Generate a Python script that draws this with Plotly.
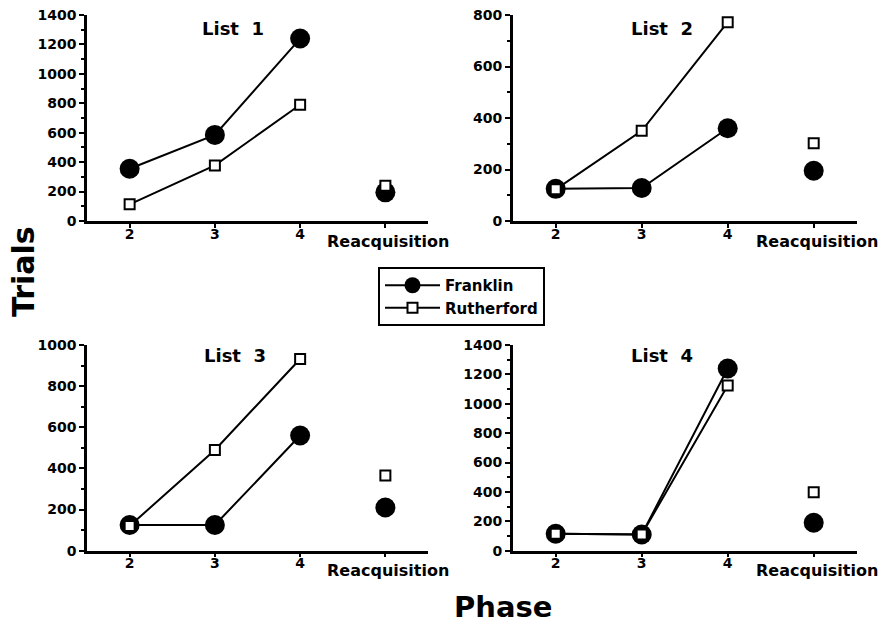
import plotly.graph_objects as go

# ---- data ----
phases = [2, 3, 4]
reacq_x = 5
tick_vals = [2, 3, 4, 5]
tick_labels = ["2", "3", "4", "Reacquisition"]
list_titles = ["List  1", "List  2", "List  3", "List  4"]
y_ranges = [1400, 800, 1000, 1400]
y_dticks = [200, 200, 200, 200]

franklin_phase = [
    [355, 585, 1240],
    [125, 128, 360],
    [125, 125, 560],
    [115, 110, 1240],
]
franklin_reacq = [195, 195, 210, 190]
rutherford_phase = [
    [113, 378, 790],
    [123, 350, 772],
    [120, 490, 932],
    [115, 110, 1125],
]
rutherford_reacq = [240, 302, 366, 398]

# ---- layout geometry (pixels) ----
W, H = 889, 628
col_x = [(87, 428), (512.7, 856.7)]
row_y = [(15, 221), (345, 550.7)]
title_px = [(233, 28.5), (662, 28.5), (235, 355), (662, 355)]

TICK_FONT = dict(family="DejaVu Sans", size=14, color="black", weight="bold")

fig = go.Figure()
for i in range(4):
    r, c = divmod(i, 2)
    suffix = "" if i == 0 else str(i + 1)
    xa, ya = "x" + suffix, "y" + suffix
    show = i == 0
    fig.add_trace(go.Scatter(
        x=phases, y=franklin_phase[i], xaxis=xa, yaxis=ya, mode="lines+markers",
        name="Franklin", legendgroup="F", showlegend=show,
        line=dict(color="black", width=2),
        marker=dict(symbol="circle", size=20, color="black"),
        cliponaxis=False,
    ))
    fig.add_trace(go.Scatter(
        x=[reacq_x], y=[franklin_reacq[i]], xaxis=xa, yaxis=ya, mode="markers",
        name="Franklin", legendgroup="F", showlegend=False,
        marker=dict(symbol="circle", size=20, color="black"),
        cliponaxis=False,
    ))
    fig.add_trace(go.Scatter(
        x=phases, y=rutherford_phase[i], xaxis=xa, yaxis=ya, mode="lines+markers",
        name="Rutherford", legendgroup="R", showlegend=show,
        line=dict(color="black", width=2),
        marker=dict(symbol="square", size=10, color="white",
                    line=dict(color="black", width=2)),
        cliponaxis=False,
    ))
    fig.add_trace(go.Scatter(
        x=[reacq_x], y=[rutherford_reacq[i]], xaxis=xa, yaxis=ya, mode="markers",
        name="Rutherford", legendgroup="R", showlegend=False,
        marker=dict(symbol="square", size=10, color="white",
                    line=dict(color="black", width=2)),
        cliponaxis=False,
    ))

    x0, x1 = col_x[c]
    y0, y1 = row_y[r]
    xdom = [x0 / W, x1 / W]
    ydom = [1 - y1 / H, 1 - y0 / H]
    fig.update_layout(**{
        "xaxis" + suffix: dict(
            domain=xdom, anchor=ya, range=[1.5, 5.5], automargin=False,
            tickvals=tick_vals, ticktext=tick_labels[:3] + [""],
            showline=True, linecolor="black", linewidth=2.5,
            ticks="outside", ticklen=4, tickwidth=2, tickcolor="black",
            ticklabelstandoff=-6,
            showgrid=False, zeroline=False, tickfont=TICK_FONT,
        ),
        "yaxis" + suffix: dict(
            domain=ydom, anchor=xa, range=[0, y_ranges[i]], automargin=False,
            dtick=y_dticks[i], tick0=0,
            showline=True, linecolor="black", linewidth=2.5,
            ticks="outside", ticklen=5, tickwidth=2, tickcolor="black",
            minor=dict(dtick=100, ticks="outside", ticklen=3, tickwidth=1.5,
                       tickcolor="black", showgrid=False),
            showgrid=False, zeroline=False, tickfont=TICK_FONT,
        ),
    })
    fig.add_annotation(
        x=tick_vals[3], y=0, xref=xa, yref=ya, text=tick_labels[3],
        showarrow=False, yanchor="middle", yshift=-20, xshift=3,
        font=dict(family="DejaVu Sans", size=16, color="black", weight="bold"),
    )
    tx, ty = title_px[i]
    fig.add_annotation(
        x=tx / W, y=1 - ty / H, xref="paper", yref="paper", text=list_titles[i],
        showarrow=False, xanchor="center", yanchor="middle",
        font=dict(family="DejaVu Sans", size=18, color="black", weight="bold"),
    )

fig.add_annotation(
    x=23 / W, y=1 - 272 / H, xref="paper", yref="paper", text="Trials",
    textangle=-90, showarrow=False, xanchor="center", yanchor="middle",
    font=dict(family="DejaVu Sans", size=30, color="black", weight="bold"),
)
fig.add_annotation(
    x=503 / W, y=1 - 607 / H, xref="paper", yref="paper", text="Phase",
    showarrow=False, xanchor="center", yanchor="middle",
    font=dict(family="DejaVu Sans", size=29, color="black", weight="bold"),
)

fig.update_layout(
    width=W, height=H, margin=dict(l=0, r=0, t=0, b=0, autoexpand=False),
    paper_bgcolor="white", plot_bgcolor="white",
    showlegend=True,
    legend=dict(
        x=378 / W, y=1 - 267 / H, xanchor="left", yanchor="top",
        bordercolor="black", borderwidth=2, bgcolor="white",
        font=dict(family="DejaVu Sans", size=15, color="black", weight="bold"),
        itemsizing="trace", tracegroupgap=0, itemwidth=55,
    ),
)

fig.write_html("out.html")
